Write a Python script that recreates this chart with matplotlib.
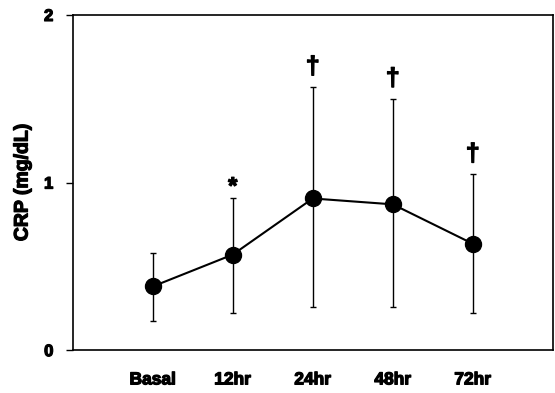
import numpy as np
import matplotlib.pyplot as plt
import matplotlib.patheffects as pe

plt.rcParams['font.family'] = ['Liberation Sans', 'DejaVu Sans']

# CRP over time, mean with asymmetric error bars
times = ['Basal', '12hr', '24hr', '48hr', '72hr']
crp_mean = [0.38, 0.57, 0.905, 0.87, 0.635]
crp_low = [0.175, 0.22, 0.255, 0.255, 0.22]
crp_high = [0.58, 0.905, 1.57, 1.50, 1.05]
marks = ['', '*', '\u2020', '\u2020', '\u2020']

x = np.arange(len(times))
mean = np.array(crp_mean)
yerr = [mean - np.array(crp_low), np.array(crp_high) - mean]

heavy = [pe.withStroke(linewidth=0.9, foreground='black')]

fig = plt.figure(figsize=(5.55, 3.93), dpi=100)
ax = fig.add_axes([0.131, 0.109, 0.865, 0.853])

ax.errorbar(x, mean, yerr=yerr, fmt='none', ecolor='black', elinewidth=1.0,
            capsize=2.3, capthick=1.0)
ax.plot(x, mean, '-o', color='black', lw=1.5, ms=11.5)

# significance marks above the error bars
for xi, hi, m in zip(x, crp_high, marks):
    if m == '':
        continue
    if m == '*':
        ax.annotate(m, (xi, hi), xytext=(0, 0), textcoords='offset points',
                    ha='center', va='bottom', fontsize=17, fontweight='bold',
                    path_effects=heavy)
    else:
        ax.annotate(m, (xi, hi), xytext=(0, 6), textcoords='offset points',
                    ha='center', va='bottom', fontsize=18, fontweight='bold',
                    path_effects=heavy)

ax.set_xlim(-1, 5)
ax.set_ylim(0, 2)
ax.set_yticks([0, 1, 2])
ax.set_yticklabels(['0', '1', '2'], fontsize=12, fontweight='bold')
ax.set_xticks(x)
ax.set_xticklabels(times, fontsize=12.5, fontweight='bold')
ax.tick_params(axis='x', length=0, pad=16)
ax.tick_params(axis='y', length=5, width=1, direction='out', pad=9)
ax.set_ylabel('CRP (mg/dL)', fontsize=14, fontweight='bold', labelpad=9)
for lbl in ax.get_xticklabels() + ax.get_yticklabels() + [ax.yaxis.label]:
    lbl.set_path_effects(heavy)
for s in ax.spines.values():
    s.set_linewidth(1.2)

fig.savefig('out.png', dpi=100)
